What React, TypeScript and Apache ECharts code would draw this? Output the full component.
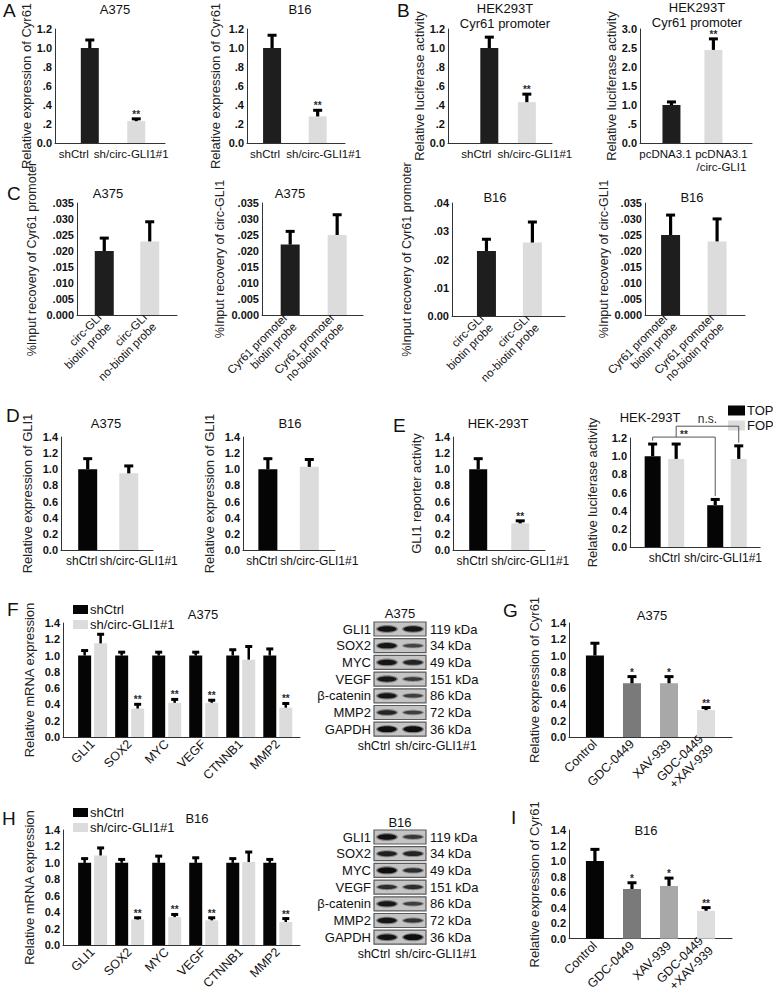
import React, { useEffect, useRef } from "react";
import * as echarts from "echarts";

const FONT = '"Liberation Sans", Arial, sans-serif';

// ---------- categories ----------
const pairCats = ["shCtrl", "sh/circ-GLI1#1"];
const pcdnaCats = ["pcDNA3.1", "pcDNA3.1\n/circ-GLI1"];
const circProbeCats = ["circ-GLI\nbiotin probe", "circ-GLI\nno-biotin probe"];
const promoterProbeCats = ["Cyr61 promoter\nbiotin probe", "Cyr61 promoter\nno-biotin probe"];
const geneCats = ["GLI1", "SOX2", "MYC", "VEGF", "CTNNB1", "MMP2"];
const drugCats = ["Control", "GDC-0449", "XAV-939", "GDC-0449\n+XAV-939"];

// ---------- tick labels ----------
const ticksDot12 = ["0.0", ".2", ".4", ".6", ".8", "1.0", "1.2"];
const ticksDot30 = ["0.0", ".5", "1.0", "1.5", "2.0", "2.5", "3.0"];
const ticks035 = ["0.000", ".005", ".010", ".015", ".020", ".025", ".030", ".035"];
const ticks04 = ["0.00", ".01", ".02", ".03", ".04"];
const ticks14 = ["0.0", "0.2", "0.4", "0.6", "0.8", "1.0", "1.2", "1.4"];
const ticks12 = ["0.0", "0.2", "0.4", "0.6", "0.8", "1.0", "1.2"];

// ---------- values ----------
// A
const aA375Cyr61 = [1.0, 0.23];
const aA375Cyr61Err = [0.1, 0.04];
const aB16Cyr61 = [1.0, 0.28];
const aB16Cyr61Err = [0.15, 0.08];
const pairSig = ["", "**"];
// B
const bShLuc = [1.0, 0.43];
const bShLucErr = [0.13, 0.1];
const bOeLuc = [1.0, 2.45];
const bOeLucErr = [0.12, 0.33];
// C
const cA375Promoter = [0.02, 0.023];
const cA375PromoterErr = [0.0045, 0.0066];
const cA375Circ = [0.022, 0.025];
const cA375CircErr = [0.0046, 0.0068];
const cB16Promoter = [0.023, 0.026];
const cB16PromoterErr = [0.0047, 0.0078];
const cB16Circ = [0.025, 0.023];
const cB16CircErr = [0.0067, 0.0075];
// D
const dA375Gli1 = [1.0, 0.95];
const dA375Gli1Err = [0.15, 0.11];
const dB16Gli1 = [1.0, 1.03];
const dB16Gli1Err = [0.15, 0.11];
// E
const eReporter = [1.0, 0.33];
const eReporterErr = [0.15, 0.05];
const eTop = [1.0, 0.46];
const eTopErr = [0.15, 0.08];
const eFop = [0.97, 0.97];
const eFopErr = [0.18, 0.16];
const e2Brackets = [
  { from: [0, 0], to: [1, 0], level: 1.21, text: "**" },
  { from: [0, 1], to: [1, 1], level: 1.33, text: "n.s." },
];
// F
const fShCtrl = [1, 1, 1, 1, 1, 1];
const fShCtrlErr = [0.08, 0.06, 0.06, 0.06, 0.09, 0.1];
const fShCirc = [1.15, 0.35, 0.42, 0.42, 0.95, 0.36];
const fShCircErr = [0.13, 0.07, 0.06, 0.05, 0.18, 0.07];
const geneSig = ["", "**", "**", "**", "", "**"];
// G
const gA375 = [1.0, 0.66, 0.66, 0.33];
const gA375Err = [0.17, 0.1, 0.1, 0.05];
const drugSig = ["", "*", "*", "**"];
// H
const hShCtrl = [1, 1, 1, 1, 1, 1];
const hShCtrlErr = [0.07, 0.06, 0.1, 0.08, 0.07, 0.06];
const hShCirc = [1.09, 0.31, 0.34, 0.3, 1.01, 0.28];
const hShCircErr = [0.11, 0.04, 0.05, 0.05, 0.14, 0.06];
// I
const iB16 = [1.0, 0.64, 0.68, 0.36];
const iB16Err = [0.17, 0.1, 0.12, 0.06];

// ---------- western blots ----------
const blotProteins = ["GLI1", "SOX2", "MYC", "VEGF", "β-catenin", "MMP2", "GAPDH"];
const blotSizes = ["119 kDa", "34 kDa", "49 kDa", "151 kDa", "86 kDa", "72 kDa", "36 kDa"];
const blotLanes = ["shCtrl", "sh/circ-GLI1#1"];
const a375BandDensity = [[0.9, 0.85], [0.85, 0.4], [0.85, 0.7], [0.85, 0.5], [0.85, 0.45], [0.7, 0.45], [0.95, 0.95]];
const b16BandDensity = [[0.9, 0.5], [0.75, 0.7], [0.95, 0.6], [0.6, 0.6], [0.85, 0.45], [0.85, 0.55], [0.9, 0.95]];

// ---------- styling ----------
const DARK = "#1e1e1e";
const BLACK = "#050505";
const LIGHT = "#dcdcdc";
const DRUG_COLORS = ["#050505", "#7a7a7a", "#a8a8a8", "#dedede"];
const MARK = "#2a2a2a";

interface BarSet { name: string; values: number[]; err: number[]; sig?: string[]; color: string | string[] }
interface Panel {
  grid: [number, number, number, number];
  x: [number, number];
  cats: string[];
  rotate?: number;
  catFont?: number;
  shift?: number[];
  yMax: number;
  yStep: number;
  ticks: string[];
  yName: string;
  nameGap: number;
  nameFont?: number;
  bars: BarSet[];
  barWidth: number;
  gap?: number;
  stem?: number;
  cap?: number;
  title: string[];
  titlePos: [number, number];
}

const panels: Panel[] = [
  { grid: [55, 29, 110, 114], x: [-0.75, 1.62], cats: pairCats, catFont: 11.5, shift: [-16, -5], yMax: 1.2, yStep: 0.2, ticks: ticksDot12,
    yName: "Relative expression of Cyr61", nameGap: 21, barWidth: 18, title: ["A375"], titlePos: [115, 9],
    bars: [{ name: "a1", values: aA375Cyr61, err: aA375Cyr61Err, sig: pairSig, color: [DARK, LIGHT] }] },
  { grid: [247, 29, 98, 114], x: [-0.55, 1.6], cats: pairCats, catFont: 11.5, shift: [-7, 6], yMax: 1.2, yStep: 0.2, ticks: ticksDot12,
    yName: "Relative expression of Cyr61", nameGap: 25, barWidth: 18, title: ["B16"], titlePos: [300, 9],
    bars: [{ name: "a2", values: aB16Cyr61, err: aB16Cyr61Err, sig: pairSig, color: [DARK, LIGHT] }] },
  { grid: [448, 29, 104, 114], x: [-1.1, 1.67], cats: pairCats, catFont: 11.5, shift: [-13, 8], yMax: 1.2, yStep: 0.2, ticks: ticksDot12,
    yName: "Relative luciferase activity", nameGap: 22, barWidth: 18, title: ["HEK293T", "Cyr61 promoter"], titlePos: [505, 16],
    bars: [{ name: "b1", values: bShLuc, err: bShLucErr, sig: pairSig, color: [DARK, LIGHT] }] },
  { grid: [640, 29, 112, 114], x: [-0.75, 1.92], cats: pcdnaCats, catFont: 11.5, shift: [-6, 8], yMax: 3, yStep: 0.5, ticks: ticksDot30,
    yName: "Relative luciferase activity", nameGap: 22, barWidth: 18, title: ["HEK293T", "Cyr61 promoter"], titlePos: [697, 15],
    bars: [{ name: "b2", values: bOeLuc, err: bOeLucErr, sig: pairSig, color: [DARK, LIGHT] }] },
  { grid: [77, 203, 100, 112], x: [-0.6, 1.6], cats: circProbeCats, rotate: 45, catFont: 11.5, yMax: 0.035, yStep: 0.005, ticks: ticks035,
    yName: "%Input recovery of Cyr61 promoter", nameGap: 39, nameFont: 12.5, barWidth: 19, title: ["A375"], titlePos: [108, 193],
    bars: [{ name: "c1", values: cA375Promoter, err: cA375PromoterErr, color: [DARK, LIGHT] }] },
  { grid: [262, 203, 101, 112], x: [-0.6, 1.55], cats: promoterProbeCats, rotate: 45, catFont: 11.5, yMax: 0.035, yStep: 0.005, ticks: ticks035,
    yName: "%Input recovery of circ-GLI1", nameGap: 36, nameFont: 12.5, barWidth: 19, title: ["A375"], titlePos: [290, 193],
    bars: [{ name: "c2", values: cA375Circ, err: cA375CircErr, color: [DARK, LIGHT] }] },
  { grid: [452, 203, 113, 113], x: [-0.75, 1.71], cats: circProbeCats, rotate: 45, catFont: 11.5, yMax: 0.04, yStep: 0.01, ticks: ticks04,
    yName: "%Input recovery of Cyr61 promoter", nameGap: 39, nameFont: 12.5, barWidth: 19, title: ["B16"], titlePos: [495, 197],
    bars: [{ name: "c3", values: cB16Promoter, err: cB16PromoterErr, color: [DARK, LIGHT] }] },
  { grid: [645, 203, 100, 112], x: [-0.55, 1.6], cats: promoterProbeCats, rotate: 45, catFont: 11.5, yMax: 0.035, yStep: 0.005, ticks: ticks035,
    yName: "%Input recovery of circ-GLI1", nameGap: 34, nameFont: 12.5, barWidth: 19, title: ["B16"], titlePos: [692, 197],
    bars: [{ name: "c4", values: cB16Circ, err: cB16CircErr, color: [DARK, LIGHT] }] },
  { grid: [61, 437, 92, 113], x: [-0.65, 1.59], cats: pairCats, shift: [-6, 10], yMax: 1.4, yStep: 0.2, ticks: ticks14,
    yName: "Relative expression of GLI1", nameGap: 27, barWidth: 19, title: ["A375"], titlePos: [106, 423],
    bars: [{ name: "d1", values: dA375Gli1, err: dA375Gli1Err, color: [BLACK, LIGHT] }] },
  { grid: [243, 437, 92, 113], x: [-0.6, 1.62], cats: pairCats, shift: [-6, 10], yMax: 1.4, yStep: 0.2, ticks: ticks14,
    yName: "Relative expression of GLI1", nameGap: 27, barWidth: 19, title: ["B16"], titlePos: [290, 423],
    bars: [{ name: "d2", values: dB16Gli1, err: dB16Gli1Err, color: [BLACK, LIGHT] }] },
  { grid: [453, 437, 92, 113], x: [-0.6, 1.59], cats: pairCats, shift: [-6, 10], yMax: 1.4, yStep: 0.2, ticks: ticks14,
    yName: "GLI1 reporter activity", nameGap: 30, barWidth: 18, title: ["HEK-293T"], titlePos: [498, 423],
    bars: [{ name: "e1", values: eReporter, err: eReporterErr, sig: pairSig, color: [BLACK, LIGHT] }] },
  { grid: [630, 438, 135, 109], x: [-0.55, 1.53], cats: pairCats, shift: [0, -4], yMax: 1.2, yStep: 0.2, ticks: ticks12,
    yName: "Relative luciferase activity", nameGap: 31, barWidth: 16, gap: 0.47, title: ["HEK-293T"], titlePos: [650, 417],
    bars: [
      { name: "TOP", values: eTop, err: eTopErr, color: BLACK },
      { name: "FOP", values: eFop, err: eFopErr, color: LIGHT },
    ] },
  { grid: [63, 623, 237, 114], x: [-0.8, 5.6], cats: geneCats, rotate: 45, catFont: 12.5, yMax: 1.4, yStep: 0.2, ticks: ticks14,
    yName: "Relative mRNA expression", nameGap: 27, barWidth: 13, gap: 0.23, stem: 2.5, cap: 7, title: ["A375"], titlePos: [203, 614],
    bars: [
      { name: "shCtrl", values: fShCtrl, err: fShCtrlErr, color: BLACK },
      { name: "sh/circ-GLI1#1", values: fShCirc, err: fShCircErr, sig: geneSig, color: LIGHT },
    ] },
  { grid: [569, 623, 163, 114], x: [-0.7, 3.7], cats: drugCats, rotate: 45, catFont: 12.5, yMax: 1.4, yStep: 0.2, ticks: ticks14,
    yName: "Relative expression of Cyr61", nameGap: 28, barWidth: 18, title: ["A375"], titlePos: [652, 615],
    bars: [{ name: "g", values: gA375, err: gA375Err, sig: drugSig, color: DRUG_COLORS }] },
  { grid: [63, 830, 237, 115], x: [-0.8, 5.6], cats: geneCats, rotate: 45, catFont: 12.5, yMax: 1.4, yStep: 0.2, ticks: ticks14,
    yName: "Relative mRNA expression", nameGap: 27, barWidth: 13, gap: 0.23, stem: 2.5, cap: 7, title: ["B16"], titlePos: [197, 818],
    bars: [
      { name: "shCtrl", values: hShCtrl, err: hShCtrlErr, color: BLACK },
      { name: "sh/circ-GLI1#1", values: hShCirc, err: hShCircErr, sig: geneSig, color: LIGHT },
    ] },
  { grid: [569, 830, 163, 114], x: [-0.7, 3.7], cats: drugCats, rotate: 45, catFont: 12.5, yMax: 1.4, yStep: 0.2, ticks: ticks14,
    yName: "Relative expression of Cyr61", nameGap: 28, barWidth: 18, title: ["B16"], titlePos: [646, 830],
    bars: [{ name: "i", values: iB16, err: iB16Err, sig: drugSig, color: DRUG_COLORS }] },
];

const letters: [string, number, number][] = [
  ["A", 3, 1], ["B", 397, 1], ["C", 7, 184], ["D", 6, 406], ["E", 393, 416],
  ["F", 7, 600], ["G", 503, 601], ["H", 2, 809], ["I", 511, 808],
];

function txt(s: string, x: number, y: number, size: number, align = "center", vAlign = "middle", color = "#111") {
  return {
    type: "text", x, y, silent: true,
    style: {
      text: s, fontSize: size, fontFamily: FONT, fill: color, textFill: color,
      align, textAlign: align, verticalAlign: vAlign, textVerticalAlign: vAlign,
    },
  };
}

function blot(title: string, density: number[][], titleY: number, firstRowY: number, laneLabelY: number) {
  const els: any[] = [];
  const boxL = 374, boxW = 52, step = 16.7;
  const lanes = [387, 413];
  els.push(txt(title, 400, titleY, 13));
  blotProteins.forEach((name, r) => {
    const cy = firstRowY + r * step;
    els.push({ type: "rect", silent: true, shape: { x: boxL, y: cy - 7, width: boxW, height: 14 },
      style: { fill: "#c4c4c4", stroke: "#5a5a5a", lineWidth: 1.2 } });
    density[r].forEach((d, l) => {
      els.push({ type: "ellipse", silent: true, shape: { cx: lanes[l], cy, rx: 11, ry: 1.6 + 2.6 * d },
        style: { fill: `rgba(60,60,60,${0.25 + 0.3 * d})` } });
      els.push({ type: "ellipse", silent: true, shape: { cx: lanes[l], cy, rx: 9.5, ry: 0.8 + 2.2 * d },
        style: { fill: `rgba(10,10,10,${0.3 + 0.7 * d})` } });
    });
    els.push(txt(name, 371, cy, 13, "right"));
    els.push(txt(blotSizes[r], 430, cy, 13, "left"));
  });
  els.push(txt(blotLanes[0], 374, laneLabelY, 12.5));
  els.push(txt(blotLanes[1], 436, laneLabelY, 12.5));
  return els;
}

function sigText(s: string, x: number, y: number, size: number) {
  return {
    type: "text", x, y,
    style: { text: s, fontSize: size, fontWeight: "bold", fontFamily: FONT, fill: MARK, textFill: MARK,
      align: "center", textAlign: "center", verticalAlign: "bottom", textVerticalAlign: "bottom" },
  };
}

function buildOption() {
  const grid: any[] = [], xAxis: any[] = [], yAxis: any[] = [], series: any[] = [];
  const graphics: any[] = [];

  panels.forEach((p, i) => {
    const [left, top, width, height] = p.grid;
    grid.push({ left, top, width, height });
    const catFont = p.catFont || 12;
    const rich: any = {};
    p.cats.forEach((_, k) => {
      const s = p.shift ? p.shift[k] : 0;
      rich["c" + k] = {
        fontSize: catFont, fontFamily: FONT, color: "#111", lineHeight: catFont + 1.5,
        padding: [0, s < 0 ? -2 * s : 0, 0, s > 0 ? 2 * s : 0],
      };
    });
    xAxis.push({
      type: "value", gridIndex: i, min: p.x[0], max: p.x[1], interval: 0.05,
      axisLine: { show: true, onZero: false, lineStyle: { color: "#333", width: 1 } },
      axisTick: { show: false }, splitLine: { show: false },
      axisLabel: {
        show: true, rotate: p.rotate || 0, margin: p.rotate ? 5 : 4, fontSize: catFont, lineHeight: catFont + 1.5,
        color: "#111", fontFamily: FONT, rich,
        formatter: (v: number) => {
          const k = Math.round(v);
          if (!(Math.abs(v - k) < 1e-6 && k >= 0 && k < p.cats.length)) return "";
          if (!p.shift) return p.cats[k];
          return p.cats[k].split("\n").map((line) => `{c${k}|${line}}`).join("\n");
        },
      },
    });
    yAxis.push({
      type: "value", gridIndex: i, min: 0, max: p.yMax, interval: p.yStep,
      name: p.yName, nameLocation: "middle", nameGap: p.nameGap, nameRotate: 90,
      nameTextStyle: { fontSize: p.nameFont || 13, color: "#222", fontFamily: FONT },
      axisLine: { show: true, onZero: false, lineStyle: { color: "#333", width: 1 } },
      axisTick: { show: false }, splitLine: { show: false },
      axisLabel: {
        fontSize: 11, fontWeight: "bold", color: "#111", margin: 3, fontFamily: FONT,
        formatter: (v: number) => p.ticks[Math.round(v / p.yStep)] ?? "",
      },
    });

    const gap = p.gap || 0;
    p.bars.forEach((b) => {
      series.push({
        type: "bar", name: b.name, xAxisIndex: i, yAxisIndex: i, barWidth: p.barWidth,
        barGap: `${Math.round(gap * 100)}%`, silent: true, z: 2,
        itemStyle: { color: Array.isArray(b.color) ? b.color[0] : b.color },
        data: b.values.map((v, j) => ({
          value: [j, v],
          itemStyle: { color: Array.isArray(b.color) ? b.color[j] : b.color },
        })),
      });
    });

    const n = p.bars.length;
    const stem = p.stem || 3.2;
    const cap = p.cap || 9;
    const capH = 3;
    p.bars.forEach((b, k) => {
      const dx = (k - (n - 1) / 2) * p.barWidth * (1 + gap);
      const sig = b.sig || [];
      series.push({
        type: "custom", xAxisIndex: i, yAxisIndex: i, z: 5, silent: true, clip: false,
        itemStyle: { color: MARK },
        data: b.values.map((v, j) => [j, v, b.err[j]]),
        renderItem: (params: any, api: any) => {
          const x = api.value(0), v = api.value(1), e = api.value(2);
          const p0 = api.coord([x, v]);
          const p1 = api.coord([x, v + e]);
          const cx = p0[0] + dx;
          const children: any[] = [
            { type: "line", shape: { x1: cx, y1: p0[1], x2: cx, y2: p1[1] + 1 }, style: { stroke: "#000", lineWidth: stem } },
            { type: "line", shape: { x1: cx - cap / 2, y1: p1[1] + capH / 2, x2: cx + cap / 2, y2: p1[1] + capH / 2 },
              style: { stroke: "#000", lineWidth: capH } },
          ];
          const s = sig[params.dataIndex];
          if (s) children.push(sigText(s, cx, p1[1] + 2, 10));
          return { type: "group", children };
        },
      });
    });

    p.title.forEach((t, li) => {
      graphics.push(txt(t, p.titlePos[0], p.titlePos[1] + (li - (p.title.length - 1) / 2) * 15, 13));
    });
  });

  // E2 significance brackets
  const e2Index = 11;
  const e2 = panels[e2Index];
  const e2Sets = e2.bars;
  series.push({
    type: "custom", xAxisIndex: e2Index, yAxisIndex: e2Index, z: 6, silent: true, clip: false,
    itemStyle: { color: MARK },
    data: [[0, 0]],
    renderItem: (_params: any, api: any) => {
      const off = (s: number) => (s - (e2Sets.length - 1) / 2) * e2.barWidth * (1 + (e2.gap || 0));
      const bx = (c: number, s: number) => api.coord([c, 0])[0] + off(s);
      const errTop = (c: number, s: number) => e2Sets[s].values[c] + e2Sets[s].err[c];
      const children: any[] = [];
      e2Brackets.forEach((br) => {
        const xa = bx(br.from[0], br.from[1]);
        const xb = bx(br.to[0], br.to[1]);
        const legBottom = (c: number, s: number, x: number) => {
          let bottom = errTop(c, s) + 0.02;
          e2Brackets.forEach((o) => {
            if (o === br || o.level >= br.level || o.level <= bottom) return;
            const oa = bx(o.from[0], o.from[1]), ob = bx(o.to[0], o.to[1]);
            if (x > Math.min(oa, ob) && x < Math.max(oa, ob)) bottom = o.level;
          });
          return api.coord([0, bottom])[1];
        };
        const yl = api.coord([0, br.level])[1];
        children.push({
          type: "polyline",
          shape: { points: [[xa, legBottom(br.from[0], br.from[1], xa)], [xa, yl], [xb, yl], [xb, legBottom(br.to[0], br.to[1], xb)]] },
          style: { stroke: "#555", lineWidth: 1, fill: "none" },
        });
        if (br.text === "**") {
          children.push(sigText(br.text, (xa + xb) / 2, yl + 2, 10));
        } else {
          children.push({
            type: "text", x: (xa + xb) / 2, y: yl - 1,
            style: { text: br.text, fontSize: 12, fontFamily: FONT, fill: MARK, textFill: MARK,
              align: "center", textAlign: "center", verticalAlign: "bottom", textVerticalAlign: "bottom" },
          });
        }
      });
      return { type: "group", children };
    },
  });

  letters.forEach(([l, x, y]) => graphics.push(txt(l, x, y, 19, "left", "top", "#111")));
  graphics.push(...blot("A375", a375BandDensity, 613, 629, 746));
  graphics.push(...blot("B16", b16BandDensity, 822, 837, 954));

  const legendBase = {
    orient: "vertical", icon: "rect", padding: 0, itemGap: 2, selectedMode: false,
    textStyle: { fontSize: 13, color: "#111", fontFamily: FONT, lineHeight: 10, padding: [0, 0, 0, -3] },
  };
  const legend = [
    { ...legendBase, data: ["shCtrl", "sh/circ-GLI1#1"], left: 73, top: 603, itemWidth: 15, itemHeight: 9 },
    { ...legendBase, data: ["shCtrl", "sh/circ-GLI1#1"], left: 73, top: 806, itemWidth: 15, itemHeight: 9 },
    { ...legendBase, data: ["TOP", "FOP"], left: 728, top: 404, itemWidth: 17, itemHeight: 10 },
  ];

  return {
    animation: false,
    backgroundColor: "#ffffff",
    textStyle: { fontFamily: FONT },
    grid, xAxis, yAxis, series, legend,
    graphic: { elements: graphics },
  };
}

export default function App() {
  const ref = useRef<HTMLDivElement>(null);
  useEffect(() => {
    if (!ref.current) return;
    const chart = echarts.init(ref.current, undefined, { renderer: "svg" });
    chart.setOption(buildOption() as any);
    return () => chart.dispose();
  }, []);
  return (
    <div
      ref={ref}
      style={{ position: "absolute", left: 0, top: 0, width: 773, height: 998, background: "#fff" }}
    />
  );
}
